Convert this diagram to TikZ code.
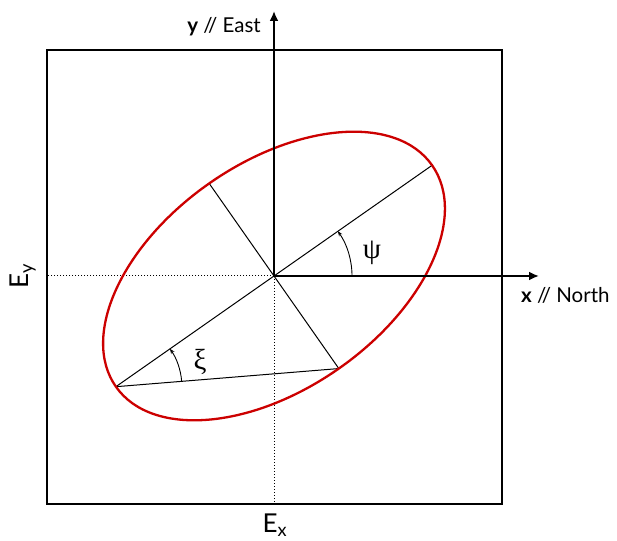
\documentclass[tikz,border=0pt]{standalone}
\usepackage{fontspec}
\setmainfont{Lato}
\newfontfamily\grk{Liberation Serif}
\usetikzlibrary{calc,arrows.meta}
\definecolor{ellred}{RGB}{204,0,0}
\tikzset{
  frame/.style={line width=1.8pt},
  axis/.style={line width=2.4pt,-{Latex[length=10pt,width=9pt]}},
  guide/.style={line width=1pt,dotted},
  thin/.style={line width=1pt},
  angarrow/.style={line width=0.9pt,-{Stealth[length=5pt,width=4pt]}},
  lbl/.style={inner sep=0pt,font=\fontsize{20.5}{22}\selectfont},
  big/.style={inner sep=0pt,font=\fontsize{26}{28}\selectfont},
  greek/.style={inner sep=0pt,font=\grk\fontsize{29}{31}\selectfont}
}
\begin{document}
\begin{tikzpicture}[x=1pt,y=1pt]
\useasboundingbox (0,0) rectangle (617,540);
\coordinate (C) at (274,264);
\coordinate (BL) at (47,36);
\coordinate (TR) at (502,490);
\coordinate (L) at (47,264);
\coordinate (B) at (274,36);
\coordinate (YT) at (274,529);
\coordinate (XT) at (539,264);
\coordinate (A1) at ($(C)+(35:193pt)$);
\coordinate (A2) at ($(C)+(215:193pt)$);
\coordinate (M1) at ($(C)+(125:113pt)$);
\coordinate (M2) at ($(C)+(305:113pt)$);
\draw[frame] (BL) rectangle (TR);
\draw[guide] (C) -- (L);
\draw[guide] (C) -- (B);
\draw[thin] (A1) -- (A2);
\draw[thin] (M1) -- (M2);
\draw[thin] (A2) -- (M2);
\draw[ellred,line width=2.3pt,rotate around={35:(C)}] (C) ellipse [x radius=193pt,y radius=113pt];
\draw[axis] (C) -- (YT);
\draw[axis] (C) -- (XT);
\draw[angarrow] ($(C)+(0:78pt)$) arc[start angle=0,end angle=35,radius=78pt];
\draw[angarrow] ($(A2)+(4.6:66pt)$) arc[start angle=4.6,end angle=35,radius=66pt];
\node[greek] (psi) at (372,287) {ψ};
\node[greek] (xi) at (200,178) {ξ};
\node[lbl,anchor=base east] (ylab) at (261,507) {\textbf{y} // East};
\node[lbl,anchor=base west] (xlab) at (521,237) {\textbf{x} // North};
\node[big,rotate=90] (ey) at (23,264) {E\textsubscript{y}};
\node[big] (ex) at (275,15) {E\textsubscript{x}};
\end{tikzpicture}
\end{document}
